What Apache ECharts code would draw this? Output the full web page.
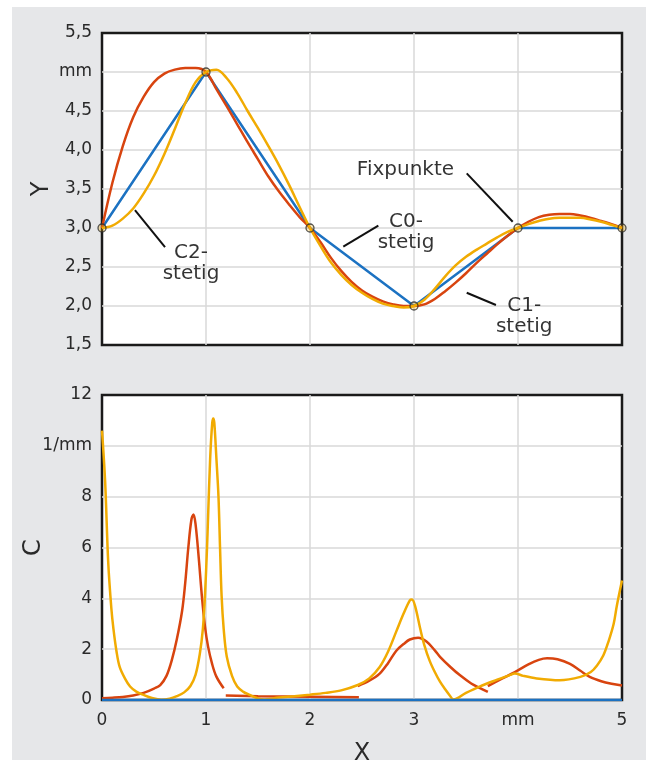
<!DOCTYPE html>
<html>
<head>
<meta charset="utf-8">
<script src="https://cdn.jsdelivr.net/npm/echarts@6/dist/echarts.min.js"></script>
<style>
  body { margin: 0; background: #fff; }
  #panel { position: absolute; left: 12px; top: 7px; width: 634px; height: 753px; background: #e6e7e9; }
  #main { position: absolute; left: 0; top: 0; width: 646px; height: 767px; }
</style>
</head>
<body>
<div id="panel"></div>
<div id="main"></div>
<script>
// Fixpunkte
var fixX = [0, 1, 2, 3, 4, 5];
var fixY = [3, 5, 3, 2, 3, 3];

// Y-Verlauf C1-stetig (rot)
var c1X = [0, 0.1, 0.2, 0.3, 0.4, 0.5, 0.6, 0.7, 0.8, 0.9, 1.0, 1.1, 1.2, 1.3, 1.4, 1.5, 1.6, 1.7, 1.8, 1.9, 2.0,
    2.1, 2.2, 2.3, 2.4, 2.5, 2.6, 2.7, 2.8, 2.9, 3.0, 3.1, 3.2, 3.3, 3.4, 3.5, 3.6, 3.7, 3.8, 3.9, 4.0,
    4.1, 4.2, 4.3, 4.4, 4.5, 4.6, 4.7, 4.8, 4.9, 5.0];
var c1Y = [3.0, 3.58, 4.05, 4.42, 4.68, 4.87, 4.98, 5.03, 5.05, 5.05, 5.0, 4.78, 4.56, 4.33, 4.1, 3.88, 3.66, 3.47, 3.3, 3.14, 3.0,
    2.82, 2.62, 2.45, 2.31, 2.2, 2.12, 2.06, 2.02, 2.0, 2.0, 2.02, 2.09, 2.19, 2.3, 2.42, 2.55, 2.67, 2.79, 2.9, 3.0,
    3.08, 3.14, 3.17, 3.18, 3.18, 3.16, 3.13, 3.09, 3.05, 3.0];

// Y-Verlauf C2-stetig (gelb)
var c2X = c1X;
var c2Y = [3.0, 3.03, 3.12, 3.25, 3.44, 3.67, 3.95, 4.27, 4.6, 4.87, 5.0, 5.03, 4.92, 4.73, 4.5, 4.28, 4.05, 3.81, 3.55, 3.27, 3.0,
    2.77, 2.56, 2.4, 2.27, 2.17, 2.09, 2.03, 2.0, 1.98, 2.0, 2.08, 2.22, 2.38, 2.52, 2.63, 2.72, 2.8, 2.88, 2.95, 3.0,
    3.05, 3.09, 3.12, 3.13, 3.13, 3.13, 3.11, 3.08, 3.04, 3.0];

// Kruemmung C0 (blau)
var k0X = [0, 5];
var k0Y = [0, 0];

// Kruemmung C1 (rot), vier Abschnitte
var k1aX = [0, 0.1, 0.2, 0.3, 0.4, 0.5, 0.56, 0.62, 0.67, 0.72, 0.77, 0.8, 0.83, 0.86, 0.88, 0.9, 0.93, 0.96, 0.99, 1.02, 1.06, 1.1, 1.17];
var k1aY = [0.07, 0.09, 0.12, 0.18, 0.28, 0.45, 0.59, 0.95, 1.55, 2.4, 3.5, 4.6, 6.0, 7.1, 7.3, 6.9, 5.6, 4.1, 2.9, 2.1, 1.4, 0.92, 0.46];
var k1bX = [1.19, 1.5, 2.0, 2.47];
var k1bY = [0.18, 0.15, 0.13, 0.11];
var k1cX = [2.46, 2.57, 2.67, 2.75, 2.83, 2.9, 2.96, 3.04, 3.12, 3.2, 3.25, 3.35, 3.44, 3.55, 3.63, 3.71];
var k1cY = [0.55, 0.76, 1.04, 1.45, 1.94, 2.2, 2.38, 2.45, 2.3, 1.95, 1.7, 1.3, 0.98, 0.65, 0.48, 0.32];
var k1dX = [3.71, 3.85, 3.97, 4.1, 4.2, 4.28, 4.38, 4.5, 4.6, 4.69, 4.8, 4.9, 5.0];
var k1dY = [0.55, 0.85, 1.1, 1.4, 1.58, 1.64, 1.6, 1.42, 1.15, 0.91, 0.74, 0.64, 0.57];

// Kruemmung C2 (gelb)
var k2X = [0, 0.03, 0.06, 0.09, 0.11, 0.14, 0.17, 0.22, 0.27, 0.33, 0.4, 0.48, 0.57, 0.65, 0.72, 0.79, 0.85, 0.9, 0.94, 0.97, 0.99,
    1.01, 1.02, 1.04, 1.06, 1.07, 1.08, 1.1, 1.12, 1.135, 1.15, 1.17, 1.2, 1.25, 1.3, 1.36, 1.42, 1.49, 1.56, 1.7, 1.85,
    2.0, 2.15, 2.3, 2.46, 2.57, 2.67, 2.75, 2.83, 2.9, 2.96, 2.98, 3.01, 3.06, 3.1, 3.15, 3.2, 3.25, 3.3, 3.34, 3.38,
    3.5, 3.63, 3.8, 3.92, 3.97, 4.05, 4.18, 4.4, 4.6, 4.7, 4.76, 4.82, 4.87, 4.92, 4.95, 5.0];
var k2Y = [10.6, 8.6, 5.4, 3.6, 2.8, 1.9, 1.3, 0.85, 0.53, 0.33, 0.2, 0.08, 0.01, 0.05, 0.15, 0.3, 0.55, 1.0, 1.8, 2.8, 4.1,
    6.0, 7.2, 9.5, 10.9, 11.08, 10.9, 9.5, 8.0, 6.0, 4.1, 2.8, 1.7, 0.95, 0.53, 0.32, 0.2, 0.08, 0.02, 0.1, 0.15,
    0.21, 0.28, 0.38, 0.59, 0.85, 1.3, 1.9, 2.7, 3.4, 3.92, 3.95, 3.7, 2.8, 2.15, 1.55, 1.1, 0.72, 0.42, 0.2, 0.02,
    0.28, 0.53, 0.8, 0.98, 1.04, 0.95, 0.85, 0.78, 0.91, 1.1, 1.36, 1.75, 2.3, 3.0, 3.7, 4.7];

// Beschriftungen
var noteText = ['C2-\nstetig', 'C0-\nstetig', 'Fixpunkte', 'C1-\nstetig'];
var noteX = [0.856, 2.923, 2.918, 4.06];
var noteY = [2.55, 2.94, 3.74, 1.87];
var leaderFrom = [[0.317, 3.23], [2.32, 2.76], [3.507, 3.70], [3.507, 2.17]];
var leaderTo = [[0.606, 2.756], [2.657, 3.03], [3.949, 3.08], [3.788, 2.013]];

var blue = '#1c72c2';
var red = '#d8440f';
var yellow = '#f1ab02';
var font = 'DejaVu Sans';

function zip(xs, ys) {
    return xs.map(function (x, i) { return [x, ys[i]]; });
}
function comma(v) {
    return v.toFixed(1).replace('.', ',');
}

var leaders = leaderFrom.map(function (p, i) {
    return [{ coord: p }, { coord: leaderTo[i] }];
});
var notes = noteText.map(function (t, i) {
    return { value: [noteX[i], noteY[i]], label: { formatter: t } };
});

var chart = echarts.init(document.getElementById('main'));
var lineBase = { type: 'line', showSymbol: false, smooth: 0.35, silent: true };
var gridLine = { show: true, showMinLine: false, showMaxLine: false, lineStyle: { color: '#d8d8d8', width: 1.5 } };
var tickLabel = { color: '#2a2a2a', fontFamily: font, fontSize: 17 };
var nameStyle = { color: '#2a2a2a', fontFamily: font, fontSize: 24 };

option = {
    animation: false,
    grid: [
        { left: 102, top: 33, width: 520, height: 312, show: true, backgroundColor: '#fff', borderColor: '#1a1a1a', borderWidth: 2.5 },
        { left: 102, top: 395, width: 520, height: 312, show: true, backgroundColor: '#fff', borderColor: '#1a1a1a', borderWidth: 2.5 }
    ],
    xAxis: [
        {
            gridIndex: 0, type: 'value', min: 0, max: 5, interval: 1,
            axisLine: { show: false }, axisTick: { show: false }, axisLabel: { show: false },
            splitLine: gridLine
        },
        {
            gridIndex: 1, type: 'value', min: 0, max: 5, interval: 1,
            name: 'X', nameLocation: 'middle', nameGap: 42, nameTextStyle: nameStyle, nameMoveOverlap: false,
            axisLine: { show: false }, axisTick: { show: false },
            axisLabel: Object.assign({ margin: 12, formatter: function (v) { return v === 4 ? 'mm' : String(v); } }, tickLabel),
            splitLine: gridLine
        }
    ],
    yAxis: [
        {
            gridIndex: 0, type: 'value', min: 1.5, max: 5.5, interval: 0.5,
            name: 'Y', nameLocation: 'middle', nameGap: 48, nameTextStyle: nameStyle, nameMoveOverlap: false,
            axisLine: { show: false }, axisTick: { show: false },
            axisLabel: Object.assign({ margin: 10, formatter: function (v) { return v === 5 ? 'mm' : comma(v); } }, tickLabel),
            splitLine: gridLine
        },
        {
            gridIndex: 1, type: 'value', min: 0, max: 12, interval: 2,
            name: 'C', nameLocation: 'middle', nameGap: 56, nameTextStyle: nameStyle, nameMoveOverlap: false,
            axisLine: { show: false }, axisTick: { show: false },
            axisLabel: Object.assign({ margin: 10, formatter: function (v) { return v === 10 ? '1/mm' : String(v); } }, tickLabel),
            splitLine: gridLine
        }
    ],
    series: [
        // oben: Verlauf
        Object.assign({}, lineBase, { xAxisIndex: 0, yAxisIndex: 0, smooth: false, data: zip(fixX, fixY), lineStyle: { color: blue, width: 2.5 } }),
        Object.assign({}, lineBase, { xAxisIndex: 0, yAxisIndex: 0, data: zip(c1X, c1Y), lineStyle: { color: red, width: 2.5 } }),
        Object.assign({}, lineBase, { xAxisIndex: 0, yAxisIndex: 0, data: zip(c2X, c2Y), lineStyle: { color: yellow, width: 2.5 } }),
        {
            type: 'scatter', xAxisIndex: 0, yAxisIndex: 0, silent: true, z: 5,
            data: zip(fixX, fixY), symbol: 'circle', symbolSize: 8,
            itemStyle: { color: 'rgba(241,171,2,0.35)', borderColor: '#2a2a2a', borderWidth: 1.3 }
        },
        // Beschriftungen
        {
            type: 'scatter', xAxisIndex: 0, yAxisIndex: 0, silent: true, z: 6,
            symbolSize: 0, data: notes,
            label: { show: true, position: 'inside', color: '#000', fontFamily: font, fontSize: 20, lineHeight: 21, align: 'center' },
            markLine: {
                silent: true, symbol: 'none', animation: false,
                lineStyle: { color: '#111', width: 2, type: 'solid' },
                label: { show: false },
                data: leaders
            }
        },
        // unten: Kruemmung
        Object.assign({}, lineBase, { xAxisIndex: 1, yAxisIndex: 1, smooth: false, data: zip(k1bX, k1bY), lineStyle: { color: red, width: 2.5 } }),
        Object.assign({}, lineBase, { xAxisIndex: 1, yAxisIndex: 1, data: zip(k1aX, k1aY), lineStyle: { color: red, width: 2.5 } }),
        Object.assign({}, lineBase, { xAxisIndex: 1, yAxisIndex: 1, data: zip(k1cX, k1cY), lineStyle: { color: red, width: 2.5 } }),
        Object.assign({}, lineBase, { xAxisIndex: 1, yAxisIndex: 1, data: zip(k1dX, k1dY), lineStyle: { color: red, width: 2.5 } }),
        Object.assign({}, lineBase, { xAxisIndex: 1, yAxisIndex: 1, data: zip(k2X, k2Y), lineStyle: { color: yellow, width: 2.5 } }),
        Object.assign({}, lineBase, { xAxisIndex: 1, yAxisIndex: 1, smooth: false, z: 4, data: zip(k0X, k0Y), lineStyle: { color: blue, width: 2.5 } })
    ]
};
chart.setOption(option);
</script>
</body>
</html>
